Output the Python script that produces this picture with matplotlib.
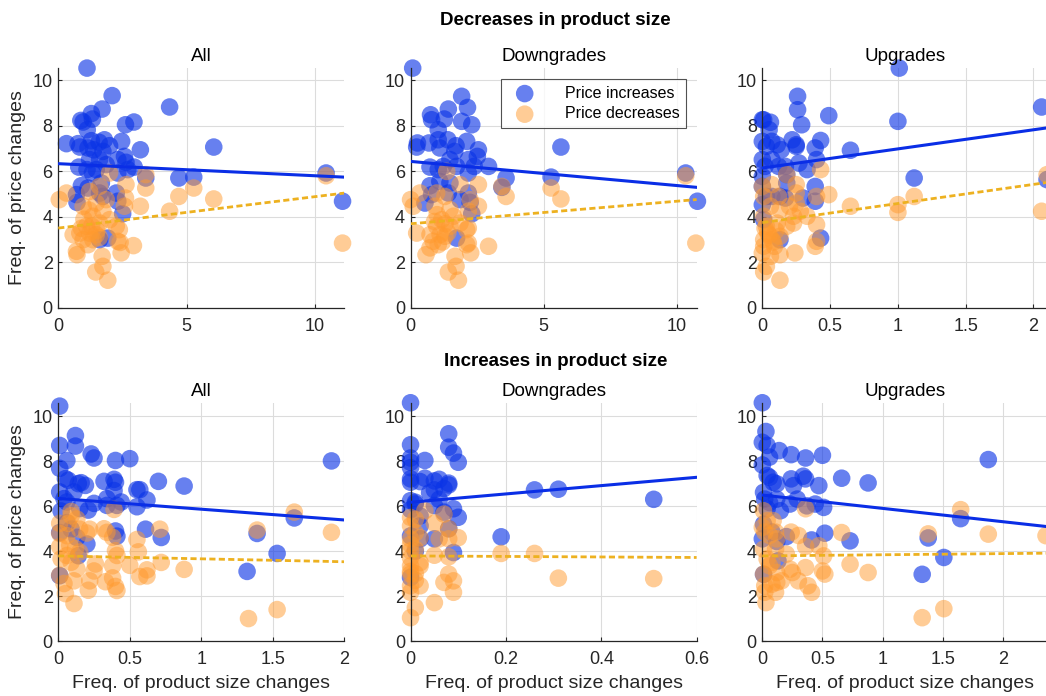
import numpy as np
import matplotlib
matplotlib.use("Agg")
import matplotlib.pyplot as plt

plt.rcParams['font.family'] = ['Liberation Sans', 'DejaVu Sans']

# ---- data: freq. of size changes (x) vs freq. of price changes (y) ----
# top row: decreases in product size
dec_all_inc_x = [1.12, 2.10, 1.71, 4.34, 0.88, 0.97, 1.29, 1.33, 1.13, 2.62, 2.95, 0.32, 0.77, 0.84, 1.29, 1.59, 1.80, 2.0, 2.47, 1.38, 1.16, 1.74, 3.2, 6.06, 0.80, 1.12, 1.61, 1.87, 2.32, 2.58, 2.64, 2.96, 2.71, 2.32, 1.22, 1.48, 1.33, 3.41, 4.70, 5.28, 10.44, 11.08, 0.90, 1.16, 1.68, 0.71, 0.73, 2.26, 2.32, 1.61, 1.74, 2.51, 1.61, 1.93]
dec_all_inc_y = [10.54, 9.33, 8.74, 8.83, 8.24, 8.17, 8.54, 8.30, 7.83, 8.05, 8.17, 7.22, 7.22, 7.07, 7.35, 7.28, 7.39, 7.13, 7.32, 6.95, 7.03, 6.88, 6.95, 7.07, 6.19, 6.08, 6.52, 6.30, 6.52, 6.66, 6.40, 6.19, 6.08, 5.93, 6.52, 6.08, 5.93, 5.71, 5.71, 5.75, 5.93, 4.69, 5.37, 5.27, 5.49, 4.98, 4.64, 5.05, 4.69, 5.05, 4.90, 4.14, 3.0, 3.07]
dec_all_dec_x = [10.44, 11.08, 3.41, 3.41, 5.28, 6.06, 4.70, 4.34, 0.04, 0.32, 3.2, 2.64, 2.62, 2.58, 1.22, 1.61, 2.0, 0.97, 1.48, 1.87, 1.74, 1.35, 1.61, 2.0, 2.26, 1.10, 0.84, 0.58, 1.22, 0.97, 1.48, 2.38, 0.71, 0.73, 1.16, 1.35, 2.32, 2.41, 2.45, 2.93, 1.71, 1.74, 1.46, 1.93, 1.3, 1.5, 1.0, 1.2, 0.9, 1.6]
dec_all_dec_y = [5.81, 2.85, 5.86, 5.27, 5.27, 4.79, 4.90, 4.25, 4.76, 5.05, 4.47, 5.42, 4.83, 4.47, 5.12, 5.34, 5.93, 4.47, 4.61, 4.76, 4.25, 4.03, 3.73, 3.88, 3.59, 3.59, 3.29, 3.22, 3.29, 3.0, 3.22, 3.44, 2.49, 2.34, 2.78, 3.0, 2.93, 2.88, 2.42, 2.74, 2.27, 1.83, 1.58, 1.22, 3.6, 3.4, 3.9, 4.3, 3.5, 3.1]

dec_down_inc_x = [0.08, 1.92, 2.14, 1.42, 0.75, 0.79, 1.27, 1.92, 2.30, 1.04, 0.26, 0.69, 0.23, 1.04, 1.40, 1.71, 2.11, 2.55, 1.10, 1.66, 2.51, 5.65, 0.73, 1.04, 1.48, 1.73, 2.17, 2.39, 2.93, 2.17, 1.23, 3.59, 5.28, 10.34, 10.78, 0.73, 1.10, 1.48, 0.54, 0.79, 2.17, 2.24, 1.42, 1.86, 2.30, 1.73, 3.43]
dec_down_inc_y = [10.54, 9.30, 8.81, 8.74, 8.49, 8.27, 8.30, 8.20, 8.05, 7.83, 7.25, 7.25, 7.07, 7.39, 7.39, 7.13, 7.32, 6.95, 7.03, 6.88, 6.66, 7.07, 6.19, 6.08, 6.52, 6.22, 6.52, 6.22, 6.22, 5.93, 6.22, 5.71, 5.75, 5.93, 4.69, 5.37, 5.56, 5.49, 4.61, 4.98, 5.05, 4.64, 5.05, 4.76, 4.14, 3.07, 5.30]
dec_down_dec_x = [10.34, 10.72, 3.43, 3.59, 5.28, 5.65, 0.0, 0.10, 0.35, 2.55, 2.55, 2.24, 2.17, 1.36, 1.86, 0.98, 1.29, 0.92, 1.48, 1.61, 1.17, 1.48, 1.86, 2.11, 0.98, 0.73, 0.23, 1.11, 0.85, 1.29, 2.17, 0.58, 0.73, 1.04, 2.17, 2.26, 2.93, 2.11, 1.67, 1.71, 1.42, 1.80, 1.3, 1.0, 1.4, 1.2, 0.9]
dec_down_dec_y = [5.81, 2.85, 5.34, 4.90, 5.27, 4.79, 4.76, 4.47, 5.05, 5.42, 4.47, 4.76, 4.25, 6.0, 5.42, 5.05, 4.90, 4.47, 4.32, 4.03, 3.88, 3.59, 3.73, 3.44, 3.59, 3.22, 3.29, 3.22, 2.93, 3.15, 3.51, 2.34, 2.64, 2.78, 2.85, 2.42, 2.71, 2.78, 2.27, 1.83, 1.58, 1.22, 3.7, 4.1, 3.3, 2.9, 3.8]

dec_up_inc_x = [1.01, 0.26, 0.26, 0.29, 0.49, 1.0, 2.06, 0.0, 0.01, 0.06, 0.05, 0.0, 0.03, 0.07, 0.11, 0.14, 0.22, 0.25, 0.25, 0.39, 0.43, 0.65, 0.0, 0.02, 0.0, 0.07, 0.12, 0.17, 0.27, 0.33, 0.40, 0.18, 0.18, 1.12, 2.10, 0.0, 0.03, 0.07, 0.13, 0.17, 0.39, 0.39, 0.30, 0.0, 0.01, 0.43, 0.13]
dec_up_inc_y = [10.54, 9.30, 8.71, 8.05, 8.45, 8.20, 8.83, 8.27, 8.27, 8.16, 7.83, 7.32, 7.10, 7.32, 7.17, 6.95, 7.39, 7.17, 7.10, 7.03, 7.36, 6.93, 6.52, 6.22, 5.78, 6.52, 6.22, 6.22, 6.37, 6.08, 6.52, 5.86, 5.49, 5.71, 5.64, 5.34, 4.90, 4.90, 4.90, 4.83, 5.34, 4.69, 4.83, 4.54, 3.88, 3.07, 3.0]
dec_up_dec_x = [2.06, 2.10, 1.0, 1.0, 1.12, 0.65, 0.49, 0.43, 0.0, 0.01, 0.07, 0.18, 0.25, 0.25, 0.40, 0.12, 0.06, 0.13, 0.20, 0.25, 0.28, 0.33, 0.23, 0.01, 0.03, 0.11, 0.18, 0.23, 0.40, 0.04, 0.01, 0.07, 0.13, 0.01, 0.09, 0.40, 0.39, 0.06, 0.13, 0.24, 0.03, 0.01, 0.13, 0.0, 0.05, 0.02, 0.08, 0.10]
dec_up_dec_y = [4.25, 5.86, 4.20, 4.54, 4.90, 4.47, 4.98, 6.08, 5.34, 4.90, 5.42, 5.86, 5.42, 5.05, 4.90, 4.90, 4.47, 4.32, 4.47, 4.61, 4.25, 4.03, 4.03, 4.03, 3.59, 3.73, 3.59, 3.73, 3.66, 3.29, 3.0, 3.0, 3.15, 2.71, 2.71, 2.93, 2.71, 2.27, 2.34, 2.42, 1.83, 1.58, 1.22, 2.42, 3.2, 3.5, 2.9, 3.4]

# bottom row: increases in product size
inc_all_inc_x = [0.01, 0.01, 0.12, 0.12, 0.06, 0.01, 0.23, 0.25, 0.40, 0.50, 1.91, 0.05, 0.07, 0.14, 0.16, 0.19, 0.32, 0.39, 0.40, 0.39, 0.55, 0.57, 0.70, 0.88, 0.01, 0.04, 0.06, 0.02, 0.11, 0.15, 0.21, 0.25, 0.34, 0.41, 0.44, 0.55, 0.62, 0.34, 1.65, 0.01, 0.06, 0.09, 0.13, 0.20, 0.14, 0.40, 0.41, 0.61, 0.72, 1.39, 1.53, 1.32, 0.01]
inc_all_inc_y = [10.46, 8.71, 9.15, 8.68, 8.04, 7.69, 8.33, 8.15, 8.04, 8.12, 8.02, 7.23, 7.16, 7.01, 7.05, 6.93, 7.11, 7.20, 7.07, 6.70, 6.74, 6.74, 7.11, 6.90, 6.64, 6.34, 6.19, 5.79, 6.64, 5.90, 5.83, 6.13, 6.34, 6.04, 6.19, 5.98, 6.28, 6.04, 5.48, 4.83, 5.27, 4.98, 4.61, 4.32, 3.80, 4.90, 4.67, 4.98, 4.61, 4.79, 3.90, 3.10, 2.91]
inc_all_dec_x = [0.01, 0.01, 0.01, 0.02, 0.01, 0.04, 0.05, 0.11, 0.07, 0.09, 0.09, 0.13, 0.15, 0.20, 0.22, 0.06, 0.08, 0.12, 0.15, 0.06, 0.09, 0.13, 0.11, 0.21, 0.32, 0.34, 0.39, 0.38, 0.40, 0.41, 0.38, 0.26, 0.25, 0.22, 0.33, 0.38, 0.40, 0.41, 0.55, 0.56, 0.50, 0.57, 0.62, 0.62, 0.71, 0.72, 0.88, 1.39, 1.65, 1.91, 1.33, 1.53]
inc_all_dec_y = [5.24, 4.79, 4.20, 3.66, 2.93, 2.56, 2.11, 1.67, 5.24, 5.77, 5.58, 5.43, 4.98, 4.81, 4.98, 4.69, 4.26, 4.11, 3.96, 3.81, 3.51, 3.21, 2.68, 2.26, 5.0, 4.84, 5.86, 4.62, 4.02, 3.81, 3.35, 3.43, 3.12, 2.68, 2.64, 2.81, 2.43, 2.25, 4.52, 3.97, 3.37, 2.87, 3.17, 2.90, 4.98, 3.50, 3.19, 4.94, 5.74, 4.84, 1.00, 1.40]

inc_down_inc_x = [0, 0, 0, 0, 0, 0.03, 0.08, 0.08, 0.09, 0.10, 0, 0.0, 0.02, 0.03, 0.05, 0.05, 0.08, 0.08, 0.07, 0.06, 0.26, 0.31, 0.51, 0, 0.01, 0.01, 0.05, 0.07, 0.09, 0.10, 0.02, 0.02, 0, 0.02, 0.05, 0.08, 0.09, 0.19, 0, 0.0, 0.01, 0.04, 0.06]
inc_down_inc_y = [10.61, 8.74, 8.15, 7.96, 7.72, 8.04, 9.23, 8.63, 8.37, 7.96, 7.22, 7.07, 7.10, 7.25, 7.13, 6.73, 7.03, 6.95, 6.79, 6.31, 6.73, 6.76, 6.31, 6.25, 6.10, 6.18, 6.03, 5.74, 5.89, 5.51, 5.57, 5.13, 4.68, 4.55, 4.55, 5.0, 3.94, 4.64, 2.83, 5.85, 4.0, 6.6, 7.2]
inc_down_dec_x = [0, 0, 0, 0, 0, 0, 0, 0, 0.01, 0.01, 0.01, 0.01, 0.02, 0.02, 0.02, 0.03, 0.05, 0.06, 0.05, 0.05, 0.07, 0.08, 0.08, 0.08, 0.07, 0.08, 0.09, 0.09, 0.10, 0.19, 0.26, 0.31, 0.51, 0, 0, 0.01, 0.0, 0.02, 0.01, 0.0]
inc_down_dec_y = [5.13, 4.55, 4.02, 3.35, 2.98, 2.46, 2.17, 1.04, 1.49, 5.42, 4.82, 4.09, 3.49, 2.46, 3.35, 5.80, 5.25, 4.55, 3.82, 1.71, 5.65, 5.0, 4.55, 3.75, 2.61, 2.98, 2.68, 2.17, 4.60, 3.90, 3.90, 2.80, 2.78, 3.7, 4.3, 3.0, 5.5, 4.6, 2.7, 3.1]

inc_up_inc_x = [0, 0.03, 0, 0.04, 0.06, 0, 0.14, 0.24, 0.36, 0.5, 1.88, 0.04, 0.06, 0.09, 0.12, 0.24, 0.26, 0.34, 0.36, 0.47, 0.66, 0.88, 0.01, 0.02, 0.06, 0.04, 0.12, 0.15, 0.23, 0.29, 0.37, 0.44, 0.51, 1.65, 0.01, 0, 0.08, 0.12, 0.20, 0.41, 0.52, 0.73, 1.38, 1.51, 1.33, 0.01, 0.13]
inc_up_inc_y = [10.61, 9.33, 8.85, 8.71, 8.19, 7.84, 8.48, 8.30, 8.15, 8.27, 8.08, 7.37, 7.29, 7.07, 7.0, 7.22, 6.92, 7.34, 7.22, 6.92, 7.25, 7.04, 6.62, 6.32, 6.17, 5.89, 6.32, 5.80, 6.10, 6.32, 6.02, 6.10, 5.95, 5.45, 5.20, 4.55, 4.85, 4.43, 4.65, 4.50, 4.80, 4.46, 4.59, 3.72, 2.97, 2.97, 3.57]
inc_up_dec_x = [0.01, 0.04, 0.02, 0, 0.09, 0.06, 0.01, 0.04, 0.06, 0.01, 0.02, 0.03, 0.02, 0.11, 0.12, 0.11, 0.08, 0.12, 0.12, 0.08, 0.16, 0.11, 0.24, 0.30, 0.36, 0.20, 0.23, 0.25, 0.30, 0.36, 0.38, 0.41, 0.36, 0.47, 0.51, 0.50, 0.52, 0.66, 0.73, 0.88, 1.38, 1.88, 1.65, 2.36, 1.33, 1.51]
inc_up_dec_y = [5.80, 5.36, 4.85, 5.06, 5.36, 4.70, 4.09, 3.65, 3.35, 2.98, 2.46, 1.71, 2.17, 4.85, 4.55, 4.09, 3.50, 3.05, 2.61, 2.53, 2.68, 2.17, 4.85, 4.70, 5.89, 3.87, 3.20, 3.05, 2.68, 3.27, 2.46, 2.17, 4.21, 4.24, 3.79, 3.12, 2.98, 4.83, 3.42, 3.05, 4.77, 4.76, 5.85, 4.69, 1.04, 1.44]

# fitted lines (intercept, slope), order: all / downgrades / upgrades
dec_fit_inc = [(6.34, -0.053), (6.44, -0.106), (6.15, 0.84)]
dec_fit_dec = [(3.51, 0.138), (3.70, 0.099), (3.75, 0.84)]
inc_fit_inc = [(6.35, -0.48), (6.18, 1.85), (6.50, -0.593)]
inc_fit_dec = [(3.79, -0.13), (3.79, -0.117), (3.79, 0.051)]

panel_titles = ['All', 'Downgrades', 'Upgrades']
row_titles = ['Decreases in product size', 'Increases in product size']
dec_xlims = [11.15, 10.75, 2.11]
inc_xlims = [2.0, 0.6, 2.38]
dec_xticks = [[0, 5, 10], [0, 5, 10], [0, 0.5, 1, 1.5, 2]]
inc_xticks = [[0, 0.5, 1, 1.5, 2], [0, 0.2, 0.4, 0.6], [0, 0.5, 1, 1.5, 2]]

blue = '#0a33e6'
orange = '#ff9a2e'
line_blue = '#0a2ee6'
line_orange = '#edb120'

fig = plt.figure(figsize=(10.46, 6.96), dpi=100)

lefts = [0.0557, 0.3925, 0.7288]
width = 0.2735
rows = [
    (0.5575, 0.345, 10.55,
     [(dec_all_inc_x, dec_all_inc_y, dec_all_dec_x, dec_all_dec_y),
      (dec_down_inc_x, dec_down_inc_y, dec_down_dec_x, dec_down_dec_y),
      (dec_up_inc_x, dec_up_inc_y, dec_up_dec_x, dec_up_dec_y)],
     dec_fit_inc, dec_fit_dec, dec_xlims, dec_xticks),
    (0.079, 0.342, 10.6,
     [(inc_all_inc_x, inc_all_inc_y, inc_all_dec_x, inc_all_dec_y),
      (inc_down_inc_x, inc_down_inc_y, inc_down_dec_x, inc_down_dec_y),
      (inc_up_inc_x, inc_up_inc_y, inc_up_dec_x, inc_up_dec_y)],
     inc_fit_inc, inc_fit_dec, inc_xlims, inc_xticks),
]

for r, (bottom, height, ytop, series, fi, fd, xl, xt) in enumerate(rows):
    for c in range(3):
        ax = fig.add_axes([lefts[c], bottom, width, height])
        xi, yi, xd, yd = series[c]
        ax.scatter(xi, yi, s=160, color=blue, alpha=0.62, edgecolors='none',
                   clip_on=False, zorder=2, label='Price increases')
        ax.scatter(xd, yd, s=160, color=orange, alpha=0.5, edgecolors='none',
                   clip_on=False, zorder=2, label='Price decreases')
        xs = np.array([0, xl[c]])
        ax.plot(xs, fi[c][0] + fi[c][1] * xs, color=line_blue, lw=2.2, zorder=3)
        ax.plot(xs, fd[c][0] + fd[c][1] * xs, color=line_orange, lw=2.0,
                ls=(0, (2.2, 1.2)), zorder=3)
        ax.set_xlim(0, xl[c])
        ax.set_ylim(0, ytop)
        ax.set_xticks(xt[c])
        ax.set_xticklabels([('%g' % v) for v in xt[c]])
        ax.set_yticks([0, 2, 4, 6, 8, 10])
        ax.grid(True, color='#dcdcdc', lw=0.8)
        ax.set_axisbelow(True)
        for sp in ['top', 'right']:
            ax.spines[sp].set_visible(False)
        for sp in ['left', 'bottom']:
            ax.spines[sp].set_color('#262626')
            ax.spines[sp].set_linewidth(0.9)
        ax.tick_params(direction='in', length=3, labelsize=13, colors='#262626')
        ax.tick_params(axis='x', pad=7)
        ax.tick_params(axis='y', pad=4)
        ax.set_title(panel_titles[c], fontsize=13.5, color='#000000', pad=5)
        if c == 0:
            ax.set_ylabel('Freq. of price changes', fontsize=14, color='#262626', labelpad=5)
        if r == 1:
            ax.set_xlabel('Freq. of product size changes', fontsize=14, color='#262626', labelpad=5)
        if r == 0 and c == 1:
            leg = ax.legend(loc='upper right', bbox_to_anchor=(0.962, 0.952), fontsize=11.5,
                            frameon=True, fancybox=False, edgecolor='#262626',
                            handletextpad=1.4, borderpad=0.4, labelspacing=0.35,
                            borderaxespad=0, handlelength=2.2)
            leg.get_frame().set_linewidth(0.8)

fig.text(0.531, 0.971, row_titles[0], ha='center', va='center', fontsize=13.5, fontweight='bold')
fig.text(0.531, 0.480, row_titles[1], ha='center', va='center', fontsize=13.5, fontweight='bold')

fig.savefig('out.png', dpi=100)
